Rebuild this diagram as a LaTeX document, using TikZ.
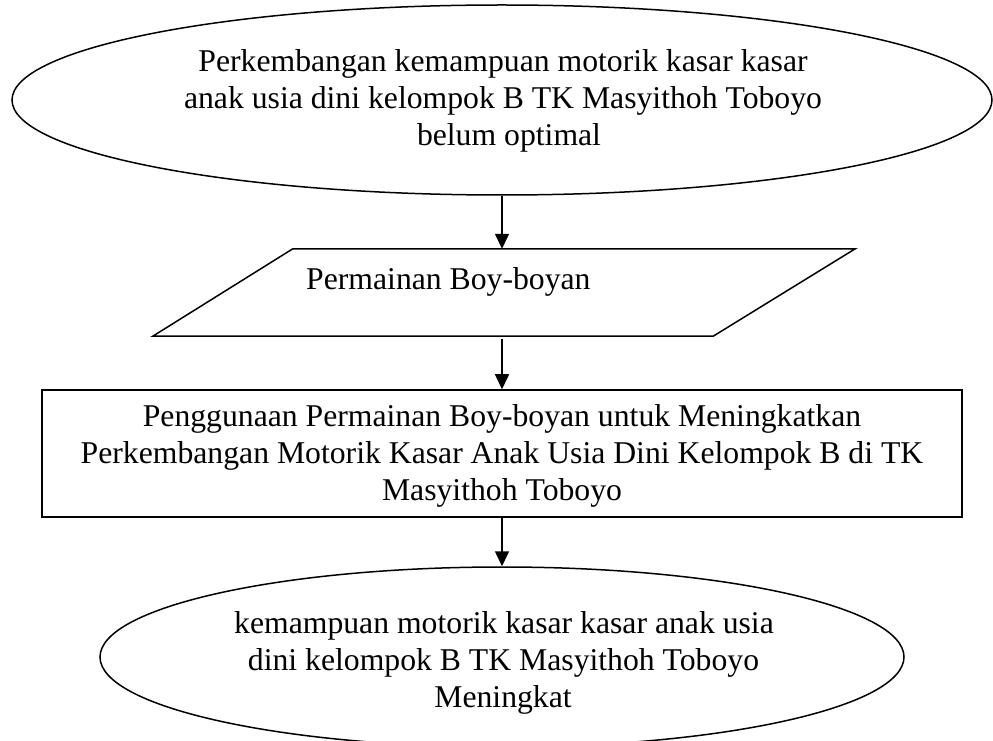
\documentclass[tikz,border=0pt]{standalone}
\usepackage{fontspec}
\setmainfont{Liberation Serif}
\usetikzlibrary{shapes.geometric,arrows.meta,calc}
\begin{document}
\begin{tikzpicture}[x=1pt,y=1pt,
  shapeline/.style={draw=black,line width=1.5pt,inner sep=0pt},
  oval/.style={shapeline,ellipse},
  box/.style={shapeline,rectangle},
  flow/.style={line width=1.5pt,-{Triangle[length=15pt,width=14pt]}},
  txt/.style={anchor=base,inner sep=0pt,font=\fontsize{31.7}{37}\selectfont}]
\useasboundingbox (0,0) rectangle (993,740);
\fill[white] (0,0) rectangle (993,740);

% top ellipse
\node[oval,minimum width=980pt,minimum height=190pt] (e1) at (502,640) {};
\node[txt] (t1a) at (503,668) {Perkembangan kemampuan motorik kasar kasar};
\node[txt] (t1b) at (503,631) {anak usia dini kelompok B TK Masyithoh Toboyo};
\node[txt] (t1c) at (509,594) {belum optimal};

% parallelogram
\node[inner sep=0pt,minimum width=702pt,minimum height=87pt] (pg) at (504,447.5) {};
\draw[line width=1.5pt,line join=miter] (pg.south west) -- ($(pg.north west)+(140,0)$)
  -- (pg.north east) -- ($(pg.south east)-(142,0)$) -- cycle;
\node[txt,anchor=base west] (t2) at (306,450) {Permainan Boy-boyan};

% rectangle
\node[box,minimum width=920pt,minimum height=127pt] (r) at (502,286.5) {};
\node[txt] (t3a) at (502,314) {Penggunaan Permainan Boy-boyan untuk Meningkatkan};
\node[txt] (t3b) at (502,277) {Perkembangan Motorik Kasar Anak Usia Dini Kelompok B di TK};
\node[txt] (t3c) at (502,240) {Masyithoh Toboyo};

% bottom ellipse
\node[oval,minimum width=804pt,minimum height=180pt] (e2) at (502,83) {};
\node[txt] (t4a) at (504,107) {kemampuan motorik kasar kasar anak usia};
\node[txt] (t4b) at (503.5,70) {dini kelompok B TK Masyithoh Toboyo};
\node[txt] (t4c) at (503,33) {Meningkat};

% connectors
\draw[flow] (e1.south) -- (e1.south |- pg.north);
\draw[flow,shorten <=3pt] (r.north |- pg.south) -- (r.north);
\draw[flow] (r.south) -- (e2.north);
\end{tikzpicture}
\end{document}
